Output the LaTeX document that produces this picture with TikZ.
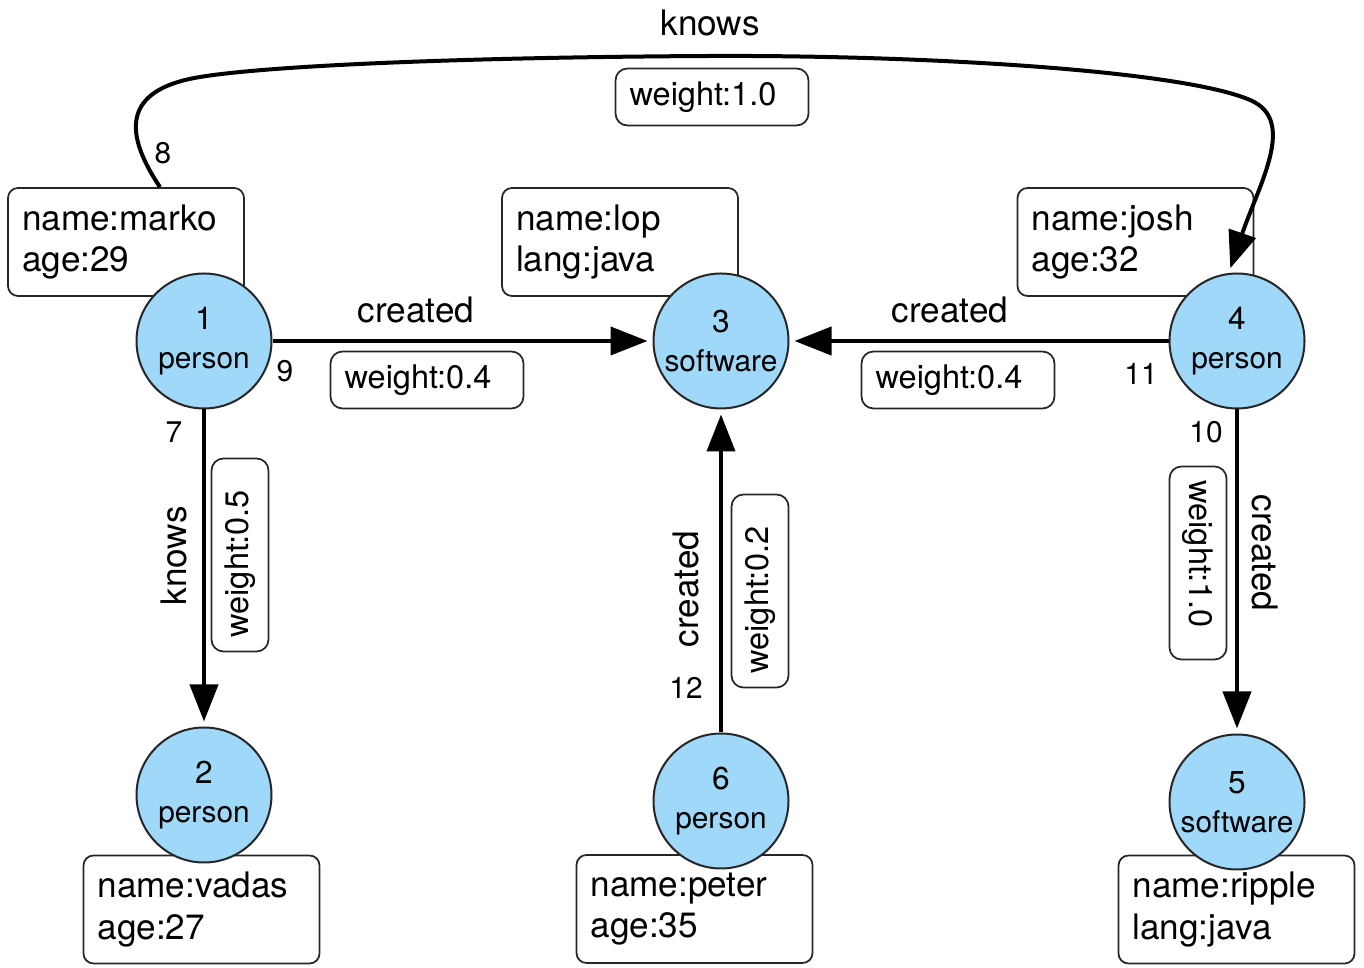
\documentclass[tikz,border=0pt]{standalone}
\usepackage{fontspec}
\setmainfont{TeX Gyre Heros}
\usetikzlibrary{arrows.meta}
\definecolor{vblue}{RGB}{160,216,250}
\newcommand{\vnum}[1]{{\fontsize{18}{22}\selectfont #1}}

\begin{document}
\begin{tikzpicture}[
    vertex/.style={circle, draw=black!85, line width=0.04cm, fill=vblue, minimum size=2.7cm, inner sep=0pt, align=center, font=\fontsize{17}{22}\selectfont},
    props/.style={draw=black!85, line width=0.035cm, rounded corners=0.2cm, minimum width=4.72cm, minimum height=2.16cm, text width=4.16cm, inner xsep=0.28cm, align=left, font=\fontsize{20}{23.5}\selectfont},
    weight/.style={draw=black!85, line width=0.035cm, rounded corners=0.24cm, minimum width=3.86cm, minimum height=1.14cm, text width=3.3cm, inner xsep=0.28cm, align=left, font=\fontsize{18.5}{22}\selectfont},
    elabel/.style={font=\fontsize{20}{24}\selectfont},
    eid/.style={font=\fontsize{17}{20}\selectfont},
    edge/.style={line width=0.08cm, -{Triangle[length=0.74cm,width=0.56cm]}, shorten >=0.1cm}
]
    \useasboundingbox (0,0) rectangle (27.28,19.34);

    \node[props] (p1) at (2.52,14.50) {name:marko\\age:29};
    \node[props] (p3) at (12.40,14.50) {name:lop\\lang:java};
    \node[props] (p4) at (22.71,14.50) {name:josh\\age:32};
    \node[props] (p2) at (4.03,1.15) {name:vadas\\age:27};
    \node[props] (p6) at (13.89,1.16) {name:peter\\age:35};
    \node[props] (p5) at (24.73,1.15) {name:ripple\\lang:java};

    \node[vertex] (v1) at (4.08,12.52) {\vnum{1}\\person};
    \node[vertex] (v2) at (4.08,3.44) {\vnum{2}\\person};
    \node[vertex] (v3) at (14.42,12.52) {\vnum{3}\\software};
    \node[vertex] (v4) at (24.74,12.52) {\vnum{4}\\person};
    \node[vertex] (v5) at (24.74,3.30) {\vnum{5}\\software};
    \node[vertex] (v6) at (14.42,3.32) {\vnum{6}\\person};

    \draw[edge] ([xshift=0.68cm]p1.north) .. controls (2.50,16.64) and (2.40,17.54) .. (4.00,17.80)
        .. controls (5.60,18.06) and (10.00,18.20) .. (14.20,18.22)
        .. controls (18.40,18.24) and (23.60,17.94) .. (25.00,17.34)
        .. controls (25.94,16.94) and (25.20,15.70) .. (v4.97);
    \draw[edge] (v1) -- (v3);
    \draw[edge] (v4) -- (v3);
    \draw[edge] (v1) -- (v2);
    \draw[edge] (v6) -- (v3);
    \draw[edge] (v4) -- (v5);

    \node[elabel] (l8) at (14.20,18.88) {knows};
    \node[weight] (w8) at (14.24,17.40) {weight:1.0};
    \node[eid] (n8) at (3.26,16.28) {8};

    \node[elabel] (l9) at (8.32,13.14) {created};
    \node[weight] (w9) at (8.54,11.74) {weight:0.4};
    \node[eid] (n9) at (5.70,11.92) {9};

    \node[elabel, rotate=90] (l7) at (3.48,8.22) {knows};
    \node[weight, rotate=90] (w7) at (4.80,8.24) {weight:0.5};
    \node[eid] (n7) at (3.48,10.70) {7};

    \node[elabel] (l11) at (19.00,13.14) {created};
    \node[weight] (w11) at (19.16,11.74) {weight:0.4};
    \node[eid] (n11) at (22.82,11.86) {11};

    \node[elabel, rotate=-90] (l10) at (25.30,8.28) {created};
    \node[weight, rotate=-90] (w10) at (23.96,8.08) {weight:1.0};
    \node[eid] (n10) at (24.12,10.70) {10};

    \node[elabel, rotate=90] (l12) at (13.72,7.56) {created};
    \node[weight, rotate=90] (w12) at (15.20,7.52) {weight:0.2};
    \node[eid] (n12) at (13.72,5.58) {12};
\end{tikzpicture}
\end{document}
